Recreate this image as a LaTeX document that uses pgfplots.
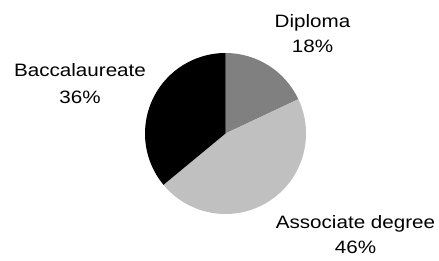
\documentclass[border=0pt]{standalone}
\usepackage{pgfplots}
\usepackage{pgfplotstable}
\pgfplotsset{compat=1.18}
\usepackage{fontspec}
\setmainfont{Liberation Sans}[FakeStretch=1.15]
\definecolor{cDip}{HTML}{808080}
\definecolor{cAss}{HTML}{C0C0C0}
\definecolor{cBac}{HTML}{000000}
\pgfplotstableread{
label value
Diploma 18
Associate 46
Baccalaureate 36
}\piedata
\pgfplotstablegetelem{0}{value}\of\piedata \let\vA\pgfplotsretval
\pgfplotstablegetelem{1}{value}\of\piedata \let\vB\pgfplotsretval
\pgfplotstablegetelem{2}{value}\of\piedata \let\vC\pgfplotsretval
\pgfmathsetmacro{\aA}{90-3.6*\vA}
\pgfmathsetmacro{\aB}{\aA-3.6*\vB}
\pgfmathsetmacro{\aC}{\aB-3.6*\vC}
\begin{document}
\begin{tikzpicture}
\begin{axis}[
  x=1bp, y=1bp,
  xmin=0, xmax=439, ymin=0, ymax=260,
  hide axis, clip=false,
]
\path (axis cs:0,0) rectangle (axis cs:439,260);
\fill[cDip] (axis cs:225.5,126.5) -- ++(90:80.5bp) arc[start angle=90, end angle=\aA, radius=80.5bp] -- cycle;
\fill[cAss] (axis cs:225.5,126.5) -- ++(\aA:80.5bp) arc[start angle=\aA, end angle=\aB, radius=80.5bp] -- cycle;
\fill[cBac] (axis cs:225.5,126.5) -- ++(\aB:80.5bp) arc[start angle=\aB, end angle=\aC, radius=80.5bp] -- cycle;
\tikzset{lbl/.style={anchor=base, inner sep=0pt, font=\fontsize{18}{22}\selectfont}}
\node[lbl] at (axis cs:312.5,233) {Diploma};
\node[lbl] at (axis cs:312.5,208) {\vA\%};
\node[lbl] at (axis cs:80,183.3) {Baccalaureate};
\node[lbl] at (axis cs:80,157) {\vC\%};
\node[lbl] at (axis cs:355.5,32) {Associate degree};
\node[lbl] at (axis cs:355.5,7) {\vB\%};
\end{axis}
\end{tikzpicture}
\end{document}
